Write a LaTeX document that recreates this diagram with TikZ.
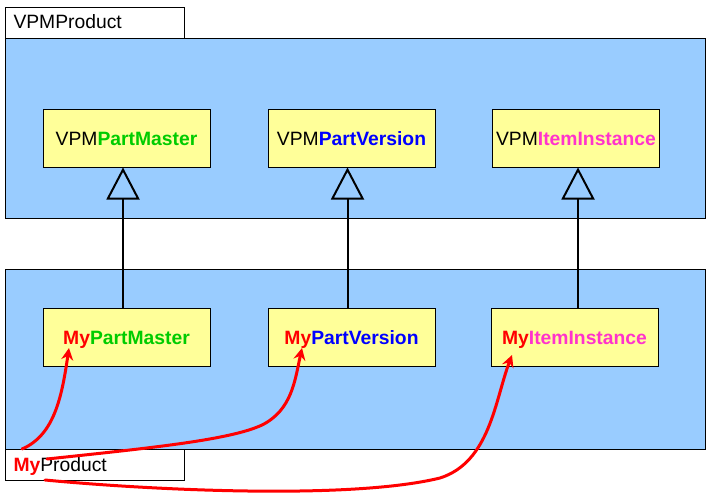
\documentclass[tikz,border=0pt]{standalone}
\usepackage{fontspec}
\setmainfont{Liberation Sans}
\usetikzlibrary{arrows.meta}
\definecolor{bgblue}{HTML}{99CCFF}
\definecolor{boxyellow}{HTML}{FFFF99}
\definecolor{mgreen}{HTML}{00CC00}
\definecolor{mblue}{HTML}{0000FF}
\definecolor{mpink}{HTML}{FF33CC}
\definecolor{mred}{HTML}{FF0000}
\begin{document}
\begin{tikzpicture}[x=1pt,y=-1pt,
  font=\fontsize{19.3}{23}\selectfont,
  container/.style={draw=black, fill=bgblue, line width=1pt, inner sep=0pt,
    anchor=north west, minimum width=700pt, minimum height=180pt},
  pkglabel/.style={draw=black, fill=white, line width=1pt, anchor=north west,
    minimum width=179pt, minimum height=31pt, inner xsep=8pt, inner ysep=0pt,
    text width=163pt, align=left, text height=13.5pt, text depth=1.5pt},
  cls/.style={draw=black, fill=boxyellow, line width=1pt, minimum width=167pt,
    minimum height=58pt, inner sep=0pt, text height=15pt, text depth=0pt},
  inherit/.style={line width=2pt, draw=black,
    -{Triangle[length=32pt, width=33pt, fill=bgblue, line join=miter]}},
  link/.style={line width=3pt, draw=mred, line cap=round,
    -{Stealth[length=12pt, width=12pt, inset=4pt]}}]
\useasboundingbox (0,0) rectangle (708,503);
% containers
\node[container] (upper) at (5,38) {};
\node[container] (lower) at (5,269) {};
\node[pkglabel] (vpmproduct) at (5,7) {VPMProduct};
% upper classes
\node[cls] (vpm1) at (126.5,138) {VPM\textbf{\color{mgreen}PartMaster}};
\node[cls] (vpm2) at (351.5,138) {VPM\textbf{\color{mblue}PartVersion}};
\node[cls] (vpm3) at (576,138) {VPM\textbf{\color{mpink}ItemInstance}};
% lower classes
\node[cls] (my1) at (126.5,337) {\textbf{\color{mred}My}\textbf{\color{mgreen}PartMaster}};
\node[cls] (my2) at (351.5,337) {\textbf{\color{mred}My}\textbf{\color{mblue}PartVersion}};
\node[cls] (my3) at (574.5,337) {\textbf{\color{mred}My}\textbf{\color{mpink}ItemInstance}};
% inheritance
\draw[inherit] ([xshift=-3.5pt]my1.north) -- ([xshift=-3.5pt]vpm1.south);
\draw[inherit] ([xshift=-4pt]my2.north) -- ([xshift=-4pt]vpm2.south);
\draw[inherit] ([xshift=3.5pt]my3.north) -- ([xshift=2pt]vpm3.south);
% MyProduct label
\node[pkglabel] (myproduct) at (5,449) {\textbf{\color{mred}My}Product};
% red links
\coordinate (s1) at (22,449);
\coordinate (s2) at (47,459);
\coordinate (s3) at (45,480);
\coordinate (t1) at (69,348);
\coordinate (t2) at (302,348);
\coordinate (t3) at (512,355);
\draw[link] (s1) .. controls (55,435) and (62,395) .. (t1);
\draw[link] (s2) .. controls (150,448) and (230,440) .. (262,425)
  .. controls (292,410) and (295,380) .. (t2);
\draw[link] (s3) .. controls (150,490) and (350,500) .. (440,478)
  .. controls (490,462) and (495,400) .. (t3);
\end{tikzpicture}
\end{document}
